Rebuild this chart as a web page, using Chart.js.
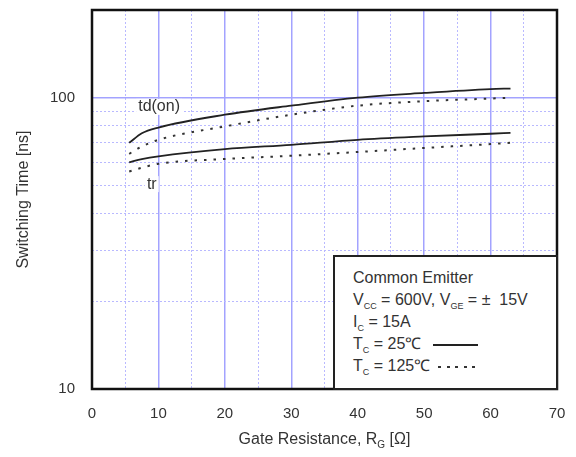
<!DOCTYPE html>
<html>
<head>
<meta charset="utf-8">
<script src="https://cdn.jsdelivr.net/npm/chart.js@4"></script>
<style>
  body { margin: 0; background: #fff; }
  #wrap { position: relative; width: 576px; height: 457px; font-family: "Liberation Sans", Arial, sans-serif; color: #333; }
  #note {
    position: absolute; left: 333px; top: 255px; width: 225px; height: 135px;
    box-sizing: border-box; border: 2px solid #222; background: #fff;
    padding: 10px 0 0 18px; font-size: 16px; line-height: 22px;
  }
  #note sub { font-size: 9px; vertical-align: -4px; line-height: 0; }
  .smp { display: inline-block; width: 45px; height: 2px; vertical-align: middle; margin-left: 12px; }
  .smp.solid { background: #222; }
  .smp.dot { margin-left: 8px; width: 42px; background: repeating-linear-gradient(to right, #333 0 3px, transparent 3px 8.5px); }
  #xtitle { position: absolute; left: 92px; width: 465px; top: 430px; text-align: center; font-size: 16px; }
  #xtitle sub { font-size: 10px; vertical-align: -4px; line-height: 0; }
</style>
</head>
<body>
<div id="wrap">
  <canvas id="chart" width="576" height="457"></canvas>
  <div id="note">
    <div>Common Emitter</div>
    <div>V<sub>CC</sub> = 600V, V<sub>GE</sub> = ±&nbsp; 15V</div>
    <div>I<sub>C</sub> = 15A</div>
    <div>T<sub>C</sub> = 25℃<span class="smp solid"></span></div>
    <div>T<sub>C</sub> = 125℃<span class="smp dot"></span></div>
  </div>
  <div id="xtitle">Gate Resistance, R<sub>G</sub> [Ω]</div>
</div>
<script>
// gate resistance [ohm]
var rg = [5.6, 7.5, 10, 20, 30, 40, 50, 60, 63];
// switching times [ns]
var tdOn25  = [70, 75.5, 79, 87.4, 93.9, 100, 103.8, 107, 107.5];
var tdOn125 = [64.2, 68, 71.7, 79.7, 87.4, 93.9, 97.3, 99.3, 100];
var tr25    = [60, 61.5, 62.9, 66.6, 68.9, 71.7, 73.6, 75.2, 75.7];
var tr125   = [55.8, 57.5, 59.3, 61.6, 63.2, 65.1, 67.2, 69.3, 70];

var yMajorTicks = [10, 100];
var yMinorTicks = [20, 30, 40, 50, 60, 70, 80, 90];

// curve name labels [text, x, y]
var curveLabels = [["td(on)", 10.1, 93], ["tr", 9, 50.5]];

function pts(ys) {
  return rg.map(function (x, i) { return { x: x, y: ys[i] }; });
}

var font = { family: '"Liberation Sans", Arial, sans-serif', size: 15 };
var majorGrid = '#a3a3ff';
var minorGrid = '#b9b9ff';

var frame = {
  id: 'frame',
  afterDatasetsDraw: function (chart) {
    var c = chart.ctx, a = chart.chartArea;
    var xs = chart.scales.x, ys = chart.scales.y;
    c.save();
    c.font = '16px "Liberation Sans", Arial, sans-serif';
    c.textAlign = 'center';
    c.textBaseline = 'middle';
    curveLabels.forEach(function (l) {
      var px = xs.getPixelForValue(l[1]), py = ys.getPixelForValue(l[2]);
      var w = c.measureText(l[0]).width;
      c.fillStyle = '#fff';
      c.fillRect(px - w / 2 - 2, py - 8, w + 4, 16);
      c.fillStyle = '#333';
      c.fillText(l[0], px, py);
    });
    c.strokeStyle = '#111';
    c.lineWidth = 2.5;
    c.strokeRect(a.left, a.top, a.right - a.left, a.bottom - a.top);
    c.restore();
  }
};

function line(data, dotted) {
  return {
    data: pts(data),
    borderColor: dotted ? '#333' : '#222',
    borderWidth: dotted ? 2 : 1.8,
    borderDash: dotted ? [2.5, 7] : [],
    pointRadius: 0,
    cubicInterpolationMode: 'monotone',
    fill: false
  };
}

function noPad(s) {
  s.paddingTop = 0; s.paddingBottom = 0; s.paddingLeft = 0; s.paddingRight = 0;
}

new Chart(document.getElementById('chart'), {
  type: 'line',
  data: {
    datasets: [line(tdOn25, false), line(tdOn125, true), line(tr25, false), line(tr125, true)]
  },
  options: {
    responsive: false,
    animation: false,
    layout: { padding: { left: 0, top: 10, right: 19, bottom: 0 } },
    plugins: { legend: { display: false }, tooltip: { enabled: false } },
    scales: {
      xm: {
        type: 'linear', position: 'bottom', min: 0, max: 70,
        ticks: { display: false, stepSize: 5 },
        grid: {
          drawTicks: false, lineWidth: 1,
          color: function (ctx) { return ctx.tick && ctx.tick.value % 10 === 0 ? 'transparent' : minorGrid; }
        },
        border: { display: false, dash: [2, 2] },
        afterFit: function (s) { s.height = 0; noPad(s); }
      },
      x: {
        type: 'linear', position: 'bottom', min: 0, max: 70,
        ticks: { stepSize: 10, padding: 16, color: '#333', font: font },
        grid: { drawTicks: false, color: majorGrid, lineWidth: 1.5 },
        border: { display: false },
        afterFit: function (s) { s.height = 68; noPad(s); }
      },
      ym: {
        type: 'logarithmic', position: 'left', min: 10, max: 200,
        afterBuildTicks: function (s) { s.ticks = yMinorTicks.map(function (v) { return { value: v }; }); },
        ticks: { display: false },
        grid: { drawTicks: false, color: minorGrid, lineWidth: 1 },
        border: { display: false, dash: [2, 2] },
        afterFit: function (s) { s.width = 0; noPad(s); }
      },
      y: {
        type: 'logarithmic', position: 'left', min: 10, max: 200,
        afterBuildTicks: function (s) { s.ticks = yMajorTicks.map(function (v) { return { value: v }; }); },
        ticks: { padding: 17, color: '#333', font: font, callback: function (v) { return String(v); } },
        grid: { drawTicks: false, color: majorGrid, lineWidth: 1.5 },
        border: { display: false },
        title: { display: true, text: 'Switching Time [ns]', color: '#333', padding: { top: 14, bottom: 0 },
                 font: { family: font.family, size: 16 } },
        afterFit: function (s) { s.width = 92; noPad(s); }
      }
    }
  },
  plugins: [frame]
});
</script>
</body>
</html>
